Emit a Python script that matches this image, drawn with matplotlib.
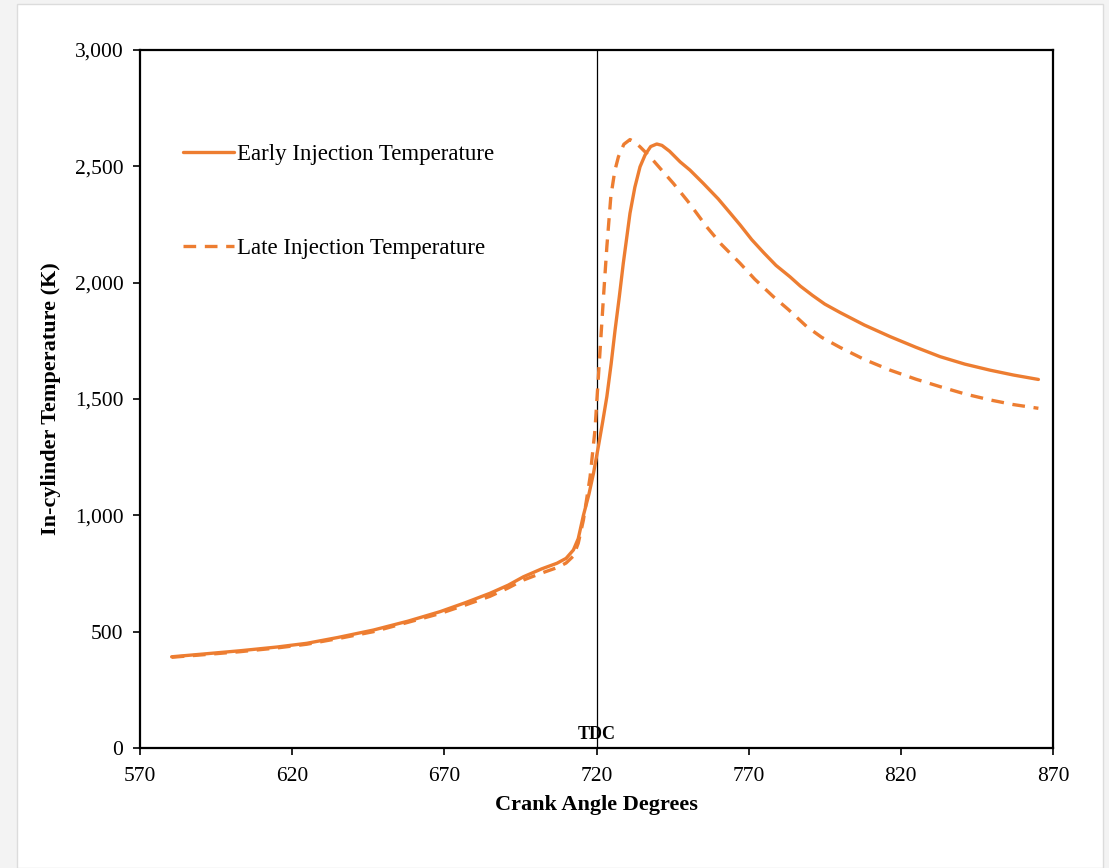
import matplotlib
matplotlib.use("Agg")
import matplotlib.pyplot as plt
from matplotlib.patches import Rectangle
from matplotlib.ticker import FuncFormatter

plt.rcParams['font.family'] = ['Liberation Serif', 'DejaVu Serif']

# crank angle (deg) / temperature (K)
early_ca = [580.4, 590, 602.9, 615, 624.8, 635, 646.7, 658, 668.6, 677, 685.0,
            691, 696.0, 702, 707.0, 710, 712.4, 714, 715.7, 717.5, 719.0,
            720.6, 722, 723.4, 724.8, 726.1, 727.5, 728.8, 730, 731.0, 732.6,
            734.3, 736, 737.8, 739.8, 741.5, 744, 747.5, 750.7, 755, 760,
            764, 767.2, 771, 775, 779, 783.6, 787, 791, 795, 800.0, 808,
            816.5, 825, 832.9, 841, 849.3, 857, 865.2]
early_temp = [392, 403, 418, 434, 450, 475, 507, 545, 586, 625, 665,
              700, 736, 770, 794, 815, 851, 900, 1000, 1090, 1180,
              1295, 1400, 1510, 1650, 1796, 1940, 2083, 2200, 2298, 2410,
              2498, 2550, 2585, 2596, 2590, 2565, 2519, 2484, 2428, 2360,
              2298, 2248, 2185, 2128, 2074, 2025, 1985, 1945, 1908, 1872, 1818,
              1768, 1722, 1682, 1650, 1624, 1603, 1584]

late_ca = [580.4, 590, 602.9, 615, 624.8, 635, 646.7, 658, 668.6, 677, 685.0,
           691, 696.0, 702, 707.0, 710, 712.4, 714, 715.7, 717.9, 719.5,
           720.9, 722.3, 723.4, 724.7, 726, 727.2, 729, 731.0, 732.5, 734.3,
           737.6, 741, 745.3, 750, 753, 756.2, 761, 767.2, 772, 778.1, 783,
           789.1, 794, 800.0, 808, 816.5, 825, 832.9, 841, 849.3, 857, 865.2]
late_temp = [390, 400, 414, 430, 446, 470, 500, 540, 578, 615, 652,
             688, 722, 752, 775, 795, 825, 880, 980, 1166, 1367,
             1653, 1940, 2154, 2369, 2480, 2541, 2595, 2615, 2605, 2584,
             2541, 2490, 2426, 2350, 2297, 2240, 2165, 2083, 2015, 1940, 1885,
             1811, 1765, 1722, 1670, 1624, 1585, 1553, 1522, 1496, 1476, 1460]

x_ticks = [570, 620, 670, 720, 770, 820, 870]
y_ticks = [0, 500, 1000, 1500, 2000, 2500, 3000]
tdc_angle = 720

orange = '#ED7D31'

fig = plt.figure(figsize=(11.09, 8.68), dpi=100, facecolor='#f3f3f3')
fig.patches.append(Rectangle((17 / 1109, 0), (1103 - 17) / 1109, 1 - 4 / 868,
                             transform=fig.transFigure, facecolor='white',
                             edgecolor='#dcdcdc', linewidth=1, zorder=-5))

ax = fig.add_axes([140 / 1109, 1 - 748 / 868, 913 / 1109, 698 / 868])
ax.set_facecolor('white')

ax.plot(early_ca, early_temp, color=orange, lw=2.4, label='Early Injection Temperature',
        solid_joinstyle='round', solid_capstyle='round')
ax.plot(late_ca, late_temp, color=orange, lw=2.4, ls=(0, (3.8, 2.6)),
        label='Late Injection Temperature')

ax.axvline(tdc_angle, color='black', lw=0.9, zorder=1)
ax.text(tdc_angle, 22, 'TDC', ha='center', va='bottom', fontsize=13, fontweight='bold')

ax.set_xlim(570, 870)
ax.set_ylim(0, 3000)
ax.set_xticks(x_ticks)
ax.set_yticks(y_ticks)
ax.yaxis.set_major_formatter(FuncFormatter(lambda v, p: f'{int(v):,}'))
ax.tick_params(direction='out', length=5, width=1.2, labelsize=15.5, color='black')
ax.tick_params(axis='x', pad=9)
ax.tick_params(axis='y', pad=7)
for s in ax.spines.values():
    s.set_linewidth(1.6)

ax.set_xlabel('Crank Angle Degrees', fontsize=16, fontweight='bold', labelpad=6)
ax.set_ylabel('In-cylinder Temperature (K)', fontsize=16, fontweight='bold', labelpad=10)

ax.legend(loc='upper left', bbox_to_anchor=(0.025, 0.895), frameon=False, fontsize=16.5,
          handlelength=2.2, handletextpad=0.15, labelspacing=3.2)

fig.savefig('out.png', dpi=100, facecolor=fig.get_facecolor())
